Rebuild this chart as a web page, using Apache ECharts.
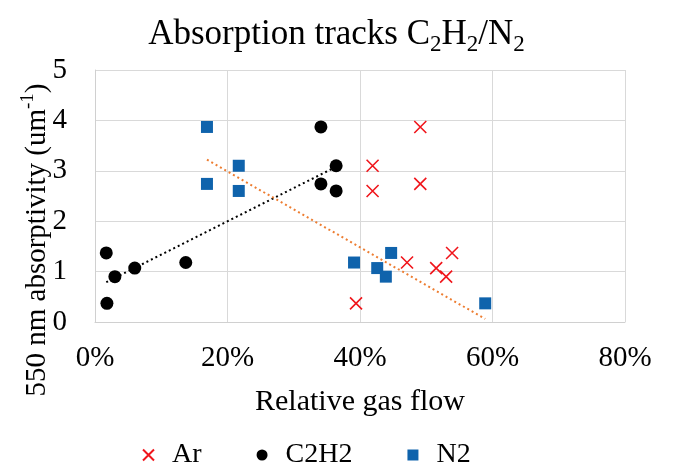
<!DOCTYPE html>
<html>
<head>
<meta charset="utf-8">
<script src="https://cdn.jsdelivr.net/npm/echarts@6/dist/echarts.min.js"></script>
<style>
html,body{margin:0;padding:0;background:#fff;}
#chart{width:673px;height:466px;}
</style>
</head>
<body>
<div id="chart"></div>
<script>
// Relative gas flow (%) and 550 nm absorptivity (um^-1)
var arX = [39.4, 41.9, 41.9, 49.1, 49.1, 47.1, 51.5, 53.0, 53.9];
var arY = [0.37, 3.10, 2.60, 3.87, 2.74, 1.18, 1.07, 0.90, 1.37];
var c2h2X = [1.8, 36.4, 36.4, 34.1, 34.1, 13.7, 6.0, 3.0, 1.7];
var c2h2Y = [0.37, 3.10, 2.60, 3.87, 2.74, 1.18, 1.07, 0.90, 1.37];
var n2X = [58.9, 21.7, 21.7, 16.9, 16.9, 39.1, 42.6, 43.9, 44.7];
var n2Y = [0.37, 3.10, 2.60, 3.87, 2.74, 1.18, 1.07, 0.90, 1.37];
// linear trendlines (end points)
var c2h2TrendX = [1.7, 36.4];
var c2h2TrendY = [0.79, 3.08];
var n2TrendX = [16.9, 58.9];
var n2TrendY = [3.22, 0.06];
var xTicks = [0, 20, 40, 60, 80];
var yTicks = [0, 1, 2, 3, 4, 5];
var seriesNames = ['Ar', 'C2H2', 'N2'];

function pairs(xs, ys) { return xs.map(function (x, i) { return [x, ys[i]]; }); }

var FONT = "'Liberation Serif', 'Times New Roman', serif";
var chart = echarts.init(document.getElementById('chart'), null, {renderer: 'canvas'});
chart.setOption({
  animation: false,
  backgroundColor: '#fff',
  title: {
    text: '{a|Absorption tracks C}{s|2}{a|H}{s|2}{a|/N}{s|2}',
    left: 'center',
    top: 9,
    textStyle: {
      fontWeight: 'normal',
      rich: {
        a: {fontFamily: FONT, fontSize: 35, fontWeight: 'normal', color: '#000', lineHeight: 42},
        s: {fontFamily: FONT, fontSize: 23, fontWeight: 'normal', color: '#000', verticalAlign: 'top', padding: [19, 0, 0, 0]}
      }
    }
  },
  graphic: [{
    type: 'text',
    x: 37, y: 240,
    rotation: Math.PI / 2,
    style: {
      text: '{a|550 nm absorptivity (um}{p|-1}{a|)}',
      align: 'center',
      verticalAlign: 'middle',
      rich: {
        a: {fontFamily: FONT, fontSize: 29, fill: '#000', lineHeight: 36},
        p: {fontFamily: FONT, fontSize: 19, fill: '#000', verticalAlign: 'top'}
      }
    }
  }],
  legend: {
    data: seriesNames,
    left: 137,
    top: 436,
    itemWidth: 11,
    itemHeight: 11,
    itemGap: 55,
    textStyle: {fontFamily: FONT, fontSize: 28, color: '#000', padding: [0, 0, 0, 13]}
  },
  grid: {left: 95, right: 48, top: 70, bottom: 144, containLabel: false},
  xAxis: {
    type: 'value',
    min: xTicks[0], max: xTicks[xTicks.length - 1], interval: 20,
    name: 'Relative gas flow',
    nameLocation: 'middle',
    nameGap: 65,
    nameTextStyle: {fontFamily: FONT, fontSize: 30, color: '#000'},
    axisLine: {show: true, lineStyle: {color: '#d0d0d0', width: 1}},
    axisTick: {show: false},
    splitLine: {show: true, lineStyle: {color: '#d9d9d9', width: 1}},
    axisLabel: {fontFamily: FONT, fontSize: 29, color: '#000', margin: 22, formatter: '{value}%'}
  },
  yAxis: {
    type: 'value',
    min: yTicks[0], max: yTicks[yTicks.length - 1], interval: 1,
    axisLine: {show: true, lineStyle: {color: '#d0d0d0', width: 1}},
    axisTick: {show: false},
    splitLine: {show: true, lineStyle: {color: '#d9d9d9', width: 1}},
    axisLabel: {fontFamily: FONT, fontSize: 29, color: '#000', margin: 28}
  },
  series: [
    {
      name: 'Ar', type: 'scatter',
      symbol: 'path://M0,0L10,10M10,0L0,10',
      symbolSize: 12,
      itemStyle: {color: 'rgba(0,0,0,0)', borderColor: '#f0151b', borderWidth: 1.6, opacity: 1},
      data: pairs(arX, arY), z: 3
    },
    {
      name: 'C2H2', type: 'scatter', symbol: 'circle', symbolSize: 13,
      itemStyle: {color: '#000', opacity: 1},
      data: pairs(c2h2X, c2h2Y), z: 3
    },
    {
      name: 'N2', type: 'scatter', symbol: 'rect', symbolSize: 12,
      itemStyle: {color: '#0f63ac', opacity: 1},
      data: pairs(n2X, n2Y), z: 3
    },
    {
      name: 'C2H2 trend', type: 'line', symbol: 'none', silent: true,
      lineStyle: {color: '#000', width: 2, type: [2, 3]},
      data: pairs(c2h2TrendX, c2h2TrendY), z: 2
    },
    {
      name: 'N2 trend', type: 'line', symbol: 'none', silent: true,
      lineStyle: {color: '#ed7d31', width: 2, type: [2, 3]},
      data: pairs(n2TrendX, n2TrendY), z: 2
    }
  ]
});
</script>
</body>
</html>
